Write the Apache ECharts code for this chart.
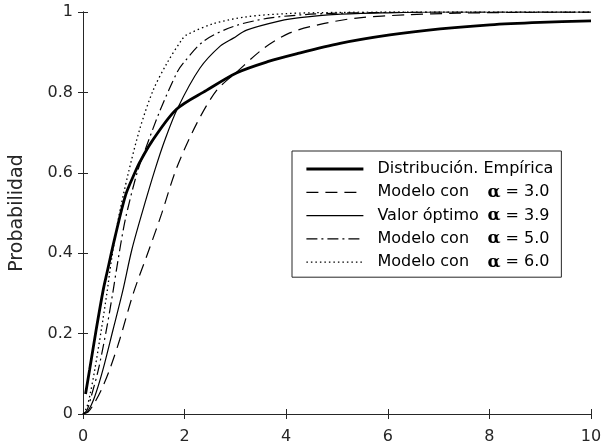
<!DOCTYPE html>
<html>
<head>
<meta charset="utf-8">
<script src="https://cdn.jsdelivr.net/npm/echarts@6/dist/echarts.min.js"></script>
<style>html,body{margin:0;padding:0;background:#fff;}#c{width:609px;height:448px;}</style>
</head>
<body>
<div id="c"></div>
<script>
// ---- data ----
const xTicks = [0, 2, 4, 6, 8, 10];
const yTicks = [0, 0.2, 0.4, 0.6, 0.8, 1];
const seriesNames = ['Distribución. Empírica', 'Modelo con', 'Valor óptimo', 'Modelo con ', 'Modelo con  '];
const alphaLabels = ['', '3.0', '3.9', '5.0', '6.0'];

const empirica = [[0.05,0.05],[0.13,0.11],[0.26,0.21],[0.40,0.31],[0.47,0.35],[0.63,0.44],[0.84,0.545],[1.02,0.60],[1.12,0.627],[1.35,0.677],[1.84,0.758],[2.43,0.805],[3.03,0.849],[3.65,0.877],[4.2,0.896],[5.06,0.922],[6.04,0.943],[7.03,0.958],[8.01,0.968],[9.0,0.974],[10,0.978]];
const alpha30 = [[0,0],[0.1,0.005],[0.2,0.022],[0.36,0.06],[0.52,0.109],[0.72,0.184],[0.99,0.30],[1.32,0.416],[1.55,0.499],[1.84,0.611],[2.24,0.723],[2.63,0.805],[3.03,0.851],[3.55,0.909],[4.07,0.948],[4.73,0.971],[5.39,0.985],[6.37,0.993],[7.36,0.997],[8.5,0.999],[10,1]];
const alpha39 = [[0,0],[0.1,0.008],[0.23,0.043],[0.39,0.109],[0.59,0.209],[0.78,0.305],[0.96,0.408],[1.16,0.499],[1.42,0.609],[1.61,0.681],[1.86,0.76],[2.3,0.86],[2.7,0.915],[2.96,0.935],[3.22,0.955],[3.88,0.978],[4.27,0.986],[5,0.994],[6,0.998],[7,1],[10,1]];
const alpha50 = [[0,0],[0.08,0.01],[0.16,0.043],[0.30,0.109],[0.46,0.209],[0.59,0.304],[0.66,0.36],[0.83,0.482],[1.06,0.598],[1.22,0.656],[1.52,0.756],[1.84,0.847],[1.97,0.872],[2.38,0.928],[2.96,0.964],[3.62,0.984],[4.3,0.993],[5,0.997],[6,0.999],[7,1],[10,1]];
const alpha60 = [[0,0],[0.07,0.015],[0.13,0.043],[0.23,0.109],[0.36,0.209],[0.47,0.30],[0.56,0.383],[0.69,0.482],[0.89,0.598],[1.12,0.71],[1.38,0.805],[1.65,0.872],[1.94,0.93],[2.04,0.943],[2.57,0.971],[3.22,0.988],[4,0.996],[5,0.999],[6,1],[10,1]];

const axisColor = '#262626';
const font = 'DejaVu Sans, Liberation Sans, Arial, sans-serif';
const widths = [2.8, 1.2, 1.2, 1.2, 1.3];
const dashes = ['solid', [12, 7], 'solid', [11, 4, 2, 4], [1.5, 3]];
const datasets = [empirica, alpha30, alpha39, alpha50, alpha60];

const chart = echarts.init(document.getElementById('c'), null, { renderer: 'canvas' });
const baseX = {
  type: 'value', min: xTicks[0], max: xTicks[xTicks.length - 1], interval: xTicks[1] - xTicks[0],
  axisLine: { show: true, lineStyle: { color: axisColor, width: 1 } },
  axisTick: { show: true, inside: true, length: 5, lineStyle: { color: axisColor } },
  splitLine: { show: false }
};
const baseY = {
  type: 'value', min: yTicks[0], max: yTicks[yTicks.length - 1], interval: 0.2,
  axisLine: { show: true, lineStyle: { color: axisColor, width: 1 } },
  axisTick: { show: true, inside: true, length: 5, lineStyle: { color: axisColor } },
  splitLine: { show: false }
};

chart.setOption({
  backgroundColor: '#fff',
  animation: false,
  grid: { left: 83, right: 18, top: 12, bottom: 34, containLabel: false },
  xAxis: [
    Object.assign({}, baseX, { position: 'bottom',
      axisLabel: { show: true, color: axisColor, fontSize: 16, fontFamily: font, margin: 15 } }),
    Object.assign({}, baseX, { position: 'top', axisLabel: { show: false } })
  ],
  yAxis: [
    Object.assign({}, baseY, { position: 'left',
      name: 'Probabilidad', nameLocation: 'middle', nameGap: 56,
      nameTextStyle: { color: axisColor, fontSize: 19, fontFamily: font },
      axisLabel: { show: true, color: axisColor, fontSize: 16, fontFamily: font, margin: 10,
        formatter: function (v) { return String(Math.round(v * 10) / 10); } } }),
    Object.assign({}, baseY, { position: 'right', axisLabel: { show: false } })
  ],
  legend: {
    orient: 'vertical', left: 292, top: 151,
    padding: [9, 8, 6, 13],
    backgroundColor: '#fff', borderColor: axisColor, borderWidth: 1,
    itemWidth: 57, itemHeight: 12, itemGap: 5.3,
    selectedMode: false,
    itemStyle: { color: 'rgba(0,0,0,0)', borderWidth: 0, opacity: 0 },
    data: seriesNames.map(function (n, i) {
      return { name: n, lineStyle: { width: widths[i], type: dashes[i], color: '#000' } };
    }),
    formatter: function (name) {
      const i = seriesNames.indexOf(name);
      if (i === 0) return '{n|' + name + '}';
      return '{m|' + name.trim() + '}{a|α}{v| = ' + alphaLabels[i] + '}';
    },
    textStyle: {
      color: '#000', fontSize: 16, fontFamily: font, lineHeight: 18,
      rich: {
        n: { fontSize: 16, fontFamily: font, color: '#000', padding: [0, 0, 0, 9] },
        m: { fontSize: 16, fontFamily: font, color: '#000', width: 110, padding: [0, 0, 0, 9] },
        a: { fontSize: 17, fontFamily: 'DejaVu Serif, Liberation Serif, serif', fontWeight: 'bold', color: '#000' },
        v: { fontSize: 16, fontFamily: font, color: '#000' }
      }
    }
  },
  series: seriesNames.map(function (n, i) {
    return {
      name: n, type: 'line', data: datasets[i], smooth: 0.3, symbol: 'none',
      lineStyle: { color: '#000', width: widths[i], type: dashes[i] },
      itemStyle: { color: '#000' },
      silent: true, z: 3
    };
  })
});
</script>
</body>
</html>
